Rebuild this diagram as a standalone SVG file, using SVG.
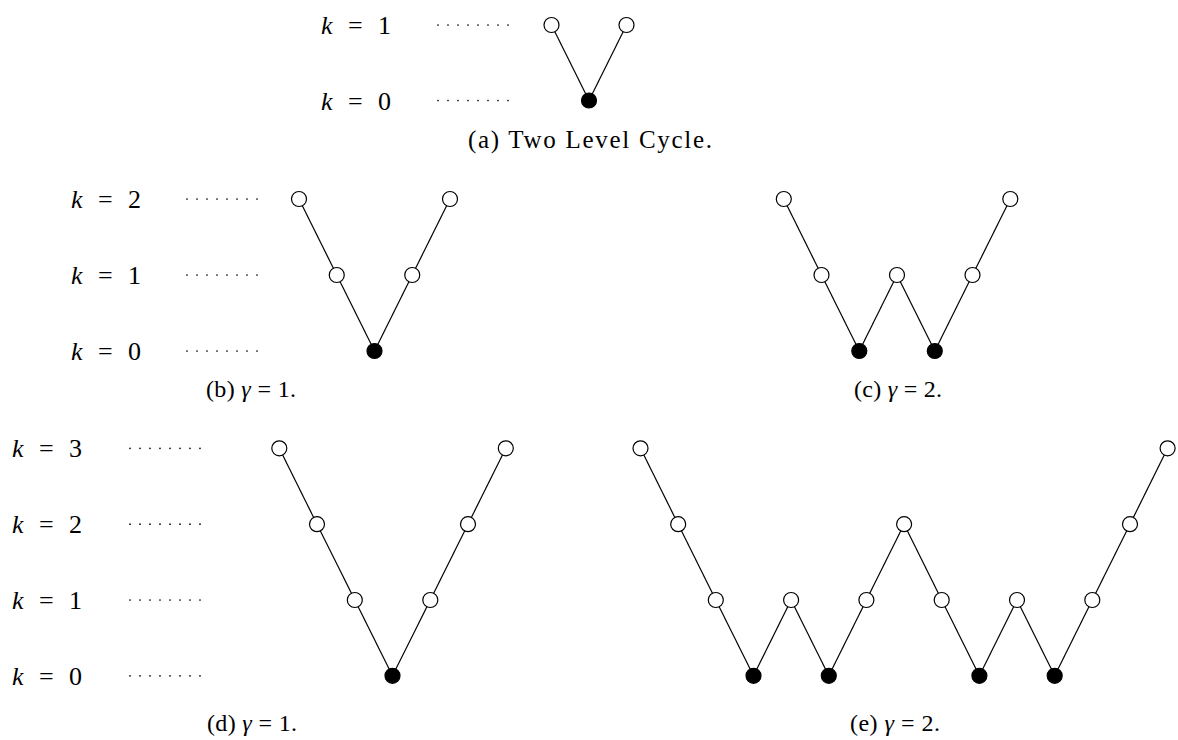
<svg xmlns="http://www.w3.org/2000/svg" width="1178" height="740" viewBox="0 0 1178 740">
<style>
text{font-family:"Liberation Serif","Times New Roman",serif;fill:#000}
.lbl{font-size:26px}
.cap{font-size:24px}
.it{font-style:italic}
.open{fill:#fff;stroke:#000;stroke-width:1.2}
.full{fill:#000;stroke:#000;stroke-width:1.2}
.edge{stroke:#000;stroke-width:1.2;fill:none}
.dots{stroke:#000;stroke-width:1.7;stroke-linecap:round;stroke-dasharray:0 10;fill:none}
</style>
<rect width="1178" height="740" fill="#fff"/>

<g id="levels">
<text class="lbl" x="321" y="34" textLength="70" lengthAdjust="spacing"><tspan class="it">k</tspan> = 1</text>
<text class="lbl" x="321" y="109.5" textLength="70" lengthAdjust="spacing"><tspan class="it">k</tspan> = 0</text>
<line class="dots" x1="438" y1="25" x2="508.5" y2="25"/>
<line class="dots" x1="438" y1="100.5" x2="508.5" y2="100.5"/>

<text class="lbl" x="71" y="208" textLength="70" lengthAdjust="spacing"><tspan class="it">k</tspan> = 2</text>
<text class="lbl" x="71" y="284" textLength="70" lengthAdjust="spacing"><tspan class="it">k</tspan> = 1</text>
<text class="lbl" x="71" y="360" textLength="70" lengthAdjust="spacing"><tspan class="it">k</tspan> = 0</text>
<line class="dots" x1="187" y1="199" x2="257.5" y2="199"/>
<line class="dots" x1="187" y1="275" x2="257.5" y2="275"/>
<line class="dots" x1="187" y1="351" x2="257.5" y2="351"/>

<text class="lbl" x="12" y="457.3" textLength="70" lengthAdjust="spacing"><tspan class="it">k</tspan> = 3</text>
<text class="lbl" x="12" y="533.2" textLength="70" lengthAdjust="spacing"><tspan class="it">k</tspan> = 2</text>
<text class="lbl" x="12" y="609" textLength="70" lengthAdjust="spacing"><tspan class="it">k</tspan> = 1</text>
<text class="lbl" x="12" y="684.8" textLength="70" lengthAdjust="spacing"><tspan class="it">k</tspan> = 0</text>
<line class="dots" x1="130" y1="448.3" x2="200.5" y2="448.3"/>
<line class="dots" x1="130" y1="524.2" x2="200.5" y2="524.2"/>
<line class="dots" x1="130" y1="600" x2="200.5" y2="600"/>
<line class="dots" x1="130" y1="675.8" x2="200.5" y2="675.8"/>
</g>

<g id="captions">
<text class="cap" x="468" y="148" textLength="244" lengthAdjust="spacing" style="font-size:25px">(a) Two Level Cycle.</text>
<text class="cap" x="206" y="397" textLength="90" lengthAdjust="spacing">(b) <tspan class="it">γ</tspan> = 1.</text>
<text class="cap" x="854" y="397" textLength="88" lengthAdjust="spacing">(c) <tspan class="it">γ</tspan> = 2.</text>
<text class="cap" x="207" y="731" textLength="90" lengthAdjust="spacing">(d) <tspan class="it">γ</tspan> = 1.</text>
<text class="cap" x="850" y="731" textLength="90" lengthAdjust="spacing">(e) <tspan class="it">γ</tspan> = 2.</text>
</g>

<g id="connectors">
<line class="edge" x1="551.5" y1="25" x2="589" y2="100.5"/>
<line class="edge" x1="589" y1="100.5" x2="626.5" y2="25"/>
<line class="edge" x1="299" y1="199" x2="336.75" y2="275"/>
<line class="edge" x1="336.75" y1="275" x2="374.5" y2="351"/>
<line class="edge" x1="374.5" y1="351" x2="412.25" y2="275"/>
<line class="edge" x1="412.25" y1="275" x2="450" y2="199"/>
<line class="edge" x1="783.8" y1="199" x2="821.5" y2="275"/>
<line class="edge" x1="821.5" y1="275" x2="859.3" y2="351"/>
<line class="edge" x1="859.3" y1="351" x2="897" y2="275"/>
<line class="edge" x1="897" y1="275" x2="934.8" y2="351"/>
<line class="edge" x1="934.8" y1="351" x2="972.5" y2="275"/>
<line class="edge" x1="972.5" y1="275" x2="1010.3" y2="199"/>
<line class="edge" x1="279.3" y1="448.3" x2="317" y2="524.2"/>
<line class="edge" x1="317" y1="524.2" x2="354.8" y2="600"/>
<line class="edge" x1="354.8" y1="600" x2="392.5" y2="675.8"/>
<line class="edge" x1="392.5" y1="675.8" x2="430.3" y2="600"/>
<line class="edge" x1="430.3" y1="600" x2="468" y2="524.2"/>
<line class="edge" x1="468" y1="524.2" x2="505.8" y2="448.3"/>
<line class="edge" x1="640.5" y1="448.3" x2="678.2" y2="524.2"/>
<line class="edge" x1="678.2" y1="524.2" x2="715.8" y2="600"/>
<line class="edge" x1="715.8" y1="600" x2="753.5" y2="675.8"/>
<line class="edge" x1="753.5" y1="675.8" x2="791.1" y2="600"/>
<line class="edge" x1="791.1" y1="600" x2="828.8" y2="675.8"/>
<line class="edge" x1="828.8" y1="675.8" x2="866.4" y2="600"/>
<line class="edge" x1="866.4" y1="600" x2="904.1" y2="524.2"/>
<line class="edge" x1="904.1" y1="524.2" x2="941.7" y2="600"/>
<line class="edge" x1="941.7" y1="600" x2="979.4" y2="675.8"/>
<line class="edge" x1="979.4" y1="675.8" x2="1017" y2="600"/>
<line class="edge" x1="1017" y1="600" x2="1054.7" y2="675.8"/>
<line class="edge" x1="1054.7" y1="675.8" x2="1092.3" y2="600"/>
<line class="edge" x1="1092.3" y1="600" x2="1130" y2="524.2"/>
<line class="edge" x1="1130" y1="524.2" x2="1167.6" y2="448.3"/>
</g>

<g id="nodes-a">
<g id="a1"><circle class="open" cx="551.5" cy="25" r="7.5"/></g>
<g id="a2"><circle class="full" cx="589" cy="100.5" r="7.5"/></g>
<g id="a3"><circle class="open" cx="626.5" cy="25" r="7.5"/></g>
</g>
<g id="nodes-b">
<g id="b1"><circle class="open" cx="299" cy="199" r="7.5"/></g>
<g id="b2"><circle class="open" cx="336.75" cy="275" r="7.5"/></g>
<g id="b3"><circle class="full" cx="374.5" cy="351" r="7.5"/></g>
<g id="b4"><circle class="open" cx="412.25" cy="275" r="7.5"/></g>
<g id="b5"><circle class="open" cx="450" cy="199" r="7.5"/></g>
</g>
<g id="nodes-c">
<g id="c1"><circle class="open" cx="783.8" cy="199" r="7.5"/></g>
<g id="c2"><circle class="open" cx="821.5" cy="275" r="7.5"/></g>
<g id="c3"><circle class="full" cx="859.3" cy="351" r="7.5"/></g>
<g id="c4"><circle class="open" cx="897" cy="275" r="7.5"/></g>
<g id="c5"><circle class="full" cx="934.8" cy="351" r="7.5"/></g>
<g id="c6"><circle class="open" cx="972.5" cy="275" r="7.5"/></g>
<g id="c7"><circle class="open" cx="1010.3" cy="199" r="7.5"/></g>
</g>
<g id="nodes-d">
<g id="d1"><circle class="open" cx="279.3" cy="448.3" r="7.5"/></g>
<g id="d2"><circle class="open" cx="317" cy="524.2" r="7.5"/></g>
<g id="d3"><circle class="open" cx="354.8" cy="600" r="7.5"/></g>
<g id="d4"><circle class="full" cx="392.5" cy="675.8" r="7.5"/></g>
<g id="d5"><circle class="open" cx="430.3" cy="600" r="7.5"/></g>
<g id="d6"><circle class="open" cx="468" cy="524.2" r="7.5"/></g>
<g id="d7"><circle class="open" cx="505.8" cy="448.3" r="7.5"/></g>
</g>
<g id="nodes-e">
<g id="e1"><circle class="open" cx="640.5" cy="448.3" r="7.5"/></g>
<g id="e2"><circle class="open" cx="678.2" cy="524.2" r="7.5"/></g>
<g id="e3"><circle class="open" cx="715.8" cy="600" r="7.5"/></g>
<g id="e4"><circle class="full" cx="753.5" cy="675.8" r="7.5"/></g>
<g id="e5"><circle class="open" cx="791.1" cy="600" r="7.5"/></g>
<g id="e6"><circle class="full" cx="828.8" cy="675.8" r="7.5"/></g>
<g id="e7"><circle class="open" cx="866.4" cy="600" r="7.5"/></g>
<g id="e8"><circle class="open" cx="904.1" cy="524.2" r="7.5"/></g>
<g id="e9"><circle class="open" cx="941.7" cy="600" r="7.5"/></g>
<g id="e10"><circle class="full" cx="979.4" cy="675.8" r="7.5"/></g>
<g id="e11"><circle class="open" cx="1017" cy="600" r="7.5"/></g>
<g id="e12"><circle class="full" cx="1054.7" cy="675.8" r="7.5"/></g>
<g id="e13"><circle class="open" cx="1092.3" cy="600" r="7.5"/></g>
<g id="e14"><circle class="open" cx="1130" cy="524.2" r="7.5"/></g>
<g id="e15"><circle class="open" cx="1167.6" cy="448.3" r="7.5"/></g>
</g>
</svg>
